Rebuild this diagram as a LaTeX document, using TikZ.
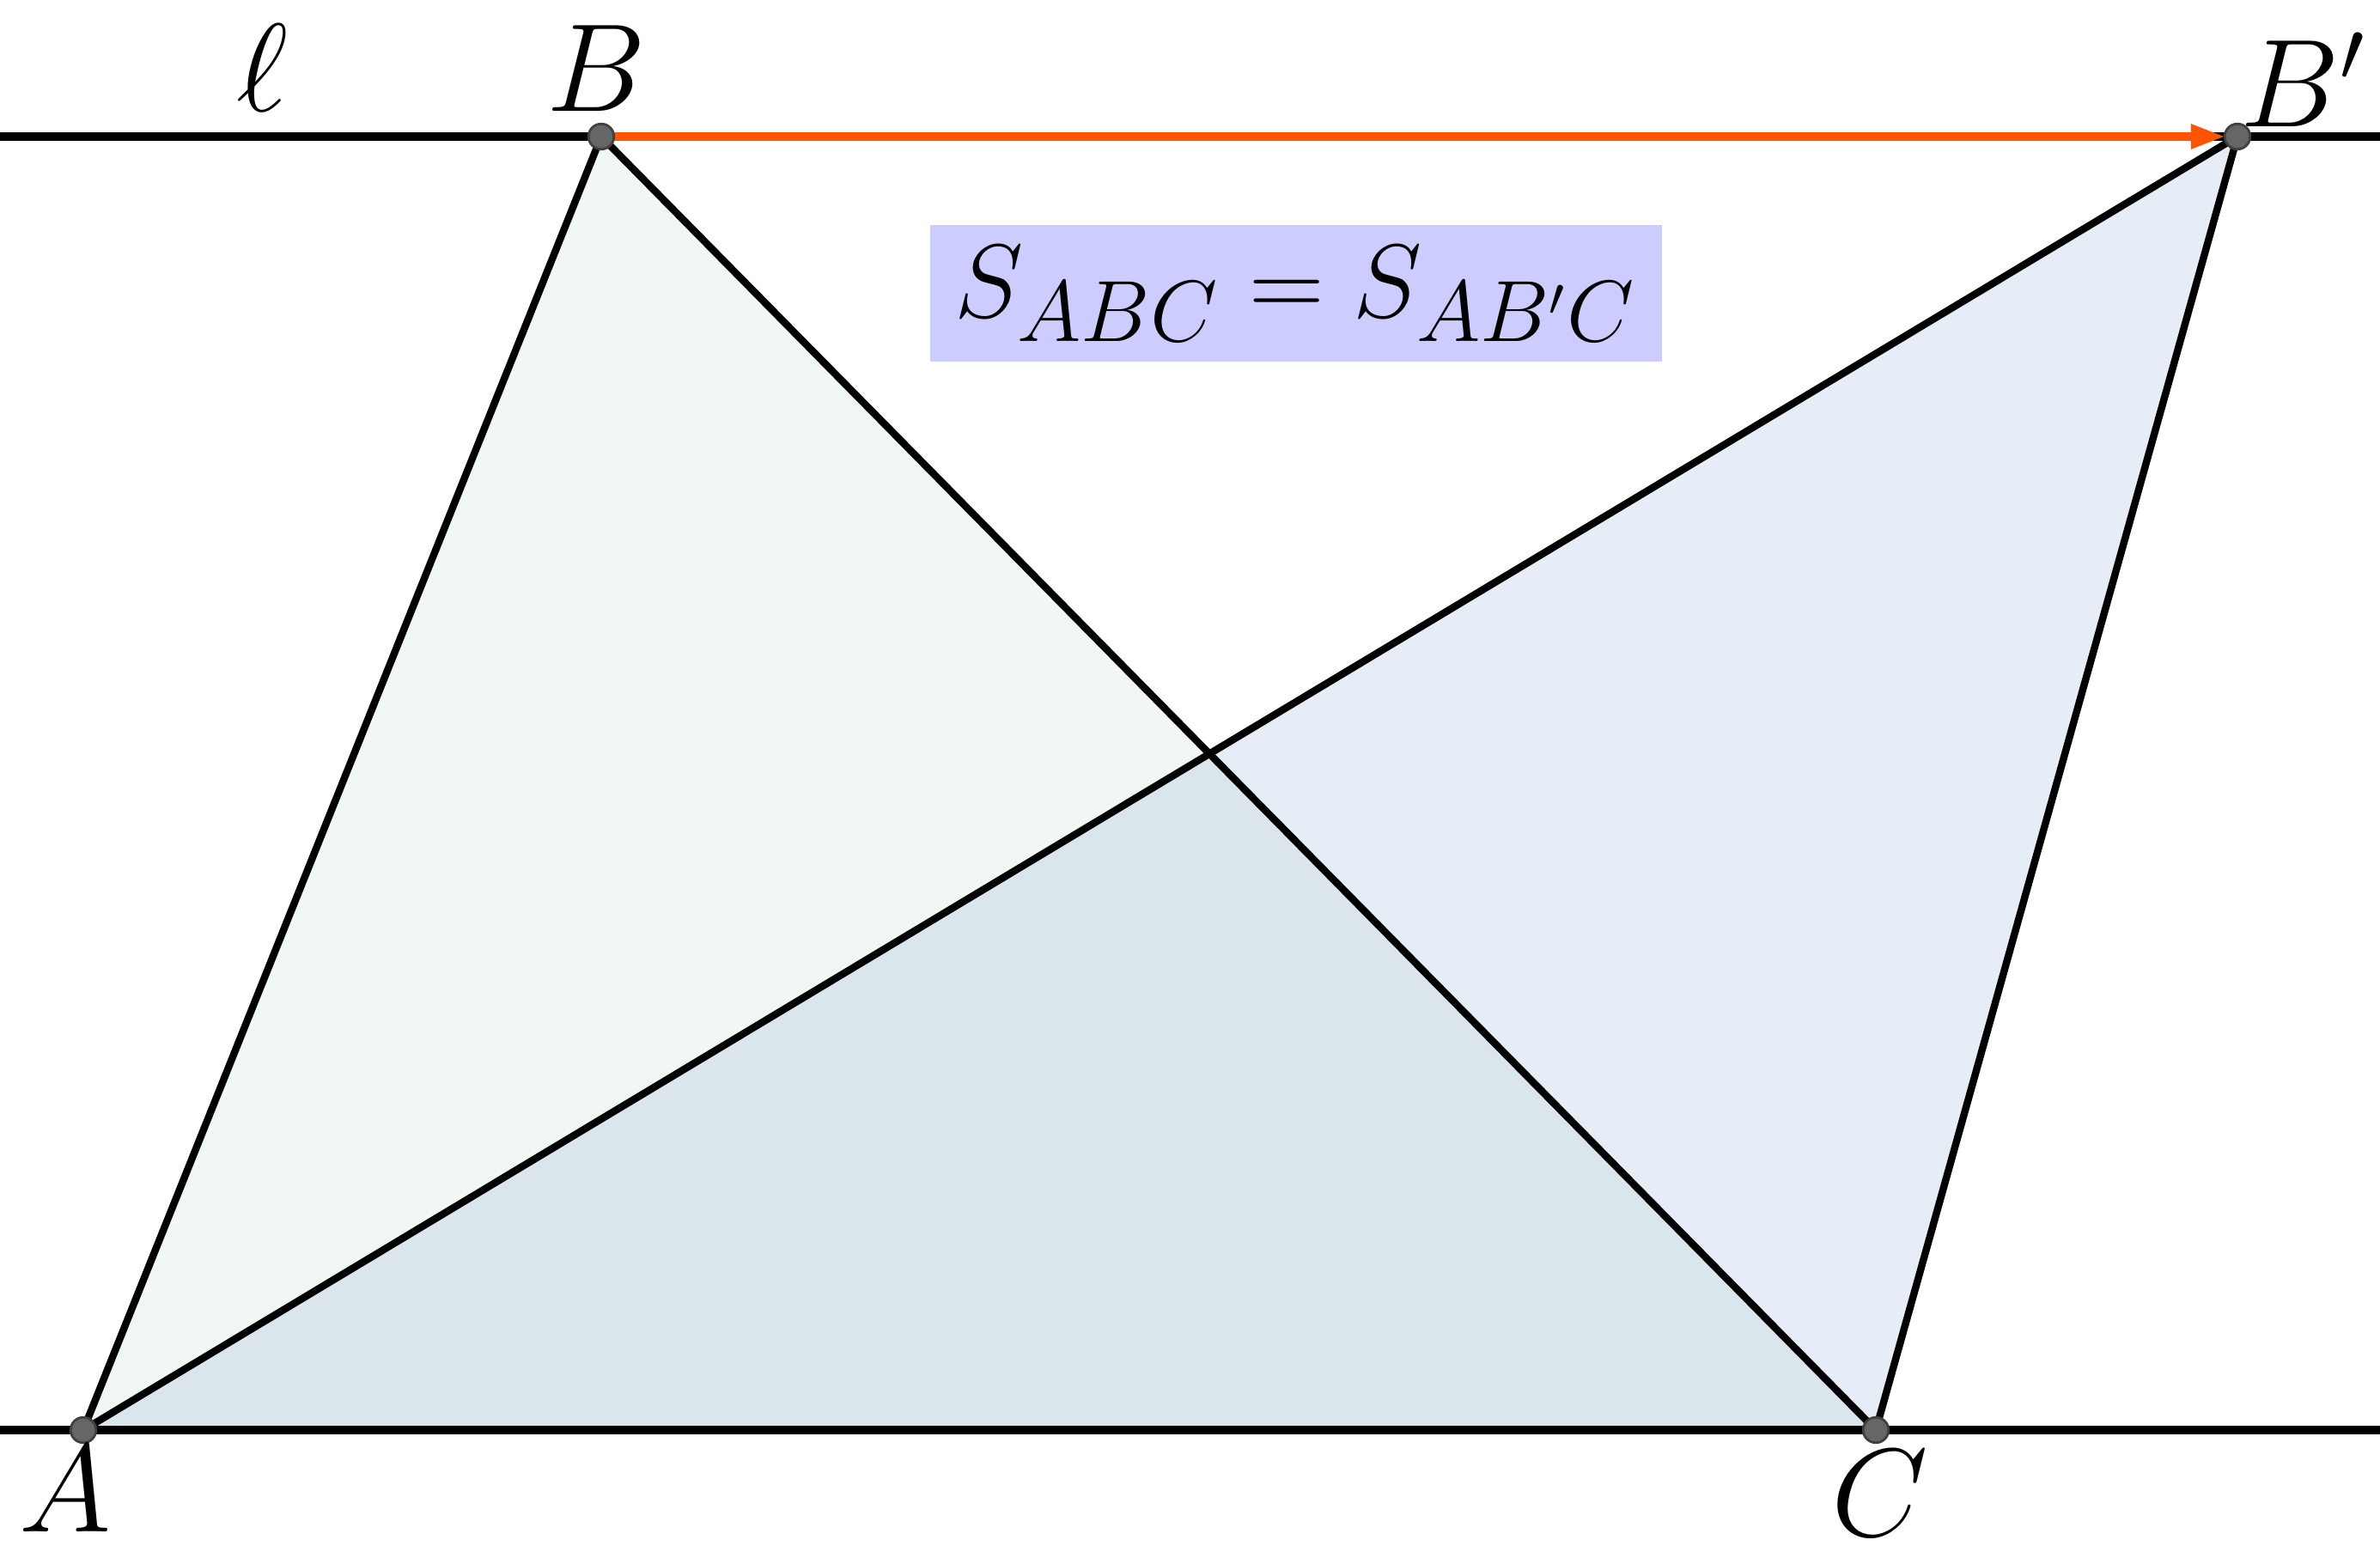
\documentclass[tikz,border=0pt]{standalone}
\usepackage{amsmath, amssymb}
\usepackage{xcolor}
\usepackage{tikz}
\usetikzlibrary{calc, arrows.meta}

\definecolor{triA}{RGB}{20,120,40}
\definecolor{triB}{RGB}{5,75,175}
\definecolor{vecorange}{RGB}{255,85,0}
\definecolor{boxblue}{RGB}{204,204,255}

\begin{document}
\begin{tikzpicture}[scale=0.5,
    pt/.style={circle, draw=black!75, fill=black!60, line width=0.4pt, inner sep=0pt, minimum size=4.2pt},
    lbl/.style={font=\fontsize{20}{24}\selectfont, inner sep=0pt},
    edge/.style={line width=1.2pt, line join=round},
    vec/.style={vecorange, line width=1.3pt, -{Triangle[length=5.7pt, width=3.8pt]}, shorten <=2pt, shorten >=2pt}]
  \useasboundingbox (0,0) rectangle (27.71,18.07);

  \coordinate (A) at (0.97,1.42);
  \coordinate (B) at (7.00,16.48);
  \coordinate (Bp) at (26.05,16.48);
  \coordinate (C) at (21.84,1.42);
  \coordinate (l1) at (0,16.48);   % line l through B and B'
  \coordinate (l2) at (27.71,16.48);
  \coordinate (m1) at (0,1.42);    % line through A and C
  \coordinate (m2) at (27.71,1.42);

  % the two triangles on the same base AC
  \fill[triA, fill opacity=0.06] (A) -- (B) -- (C) -- cycle;
  \fill[triB, fill opacity=0.1] (A) -- (Bp) -- (C) -- cycle;

  \draw[line width=1.3pt] (l1) -- (l2);
  \draw[line width=1.3pt] (m1) -- (m2);
  \draw[edge] (A) -- (B) -- (C);
  \draw[edge] (A) -- (Bp) -- (C);

  % B slides along l
  \draw[vec] (B) -- (Bp);

  \node[pt] (dA) at (A) {};
  \node[pt] (dB) at (B) {};
  \node[pt] (dBp) at (Bp) {};
  \node[pt] (dC) at (C) {};

  \node[lbl] (lA) at ($(A)+(-0.21,-0.69)$) {$A$};
  \node[lbl] (lB) at ($(B)+(-0.06,0.79)$) {$B$};
  \node[lbl] (lBp) at ($(Bp)+(0.77,0.66)$) {$B'$};
  \node[lbl] (lC) at ($(C)+(0.05,-0.74)$) {$C$};
  \node[lbl] (ell) at ($(l1)+(3.05,0.80)$) {$\ell$};

  \node[lbl, font=\fontsize{19}{23}\selectfont, fill=boxblue, minimum width=4.26cm, minimum height=0.795cm] (area) at (15.09,14.65) {$S_{ABC} = S_{AB'C}$};
\end{tikzpicture}
\end{document}
